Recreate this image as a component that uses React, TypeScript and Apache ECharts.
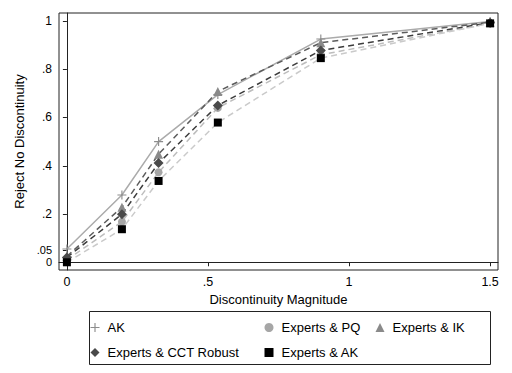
import React, { useEffect, useRef } from "react";
import * as echarts from "echarts";

const magnitudes = [0, 0.195, 0.325, 0.535, 0.9, 1.5];
const akValues = [0.055, 0.279, 0.5, 0.695, 0.925, 0.998];
const pqValues = [0.01, 0.168, 0.373, 0.64, 0.86, 0.99];
const ikValues = [0.025, 0.228, 0.448, 0.708, 0.91, 0.995];
const cctValues = [0.02, 0.199, 0.411, 0.65, 0.878, 0.993];
const expAkValues = [0.0, 0.137, 0.337, 0.579, 0.846, 0.99];

const yTicks = [0, 0.05, 0.2, 0.4, 0.6, 0.8, 1];
const xTicks = [0, 0.5, 1, 1.5];

const FONT = '"Liberation Sans", Arial, sans-serif';
const PLUS = "path://M3.5,0h1v3.5h3.5v1h-3.5v3.5h-1v-3.5h-3.5v-1h3.5z";

function fmt(v: number): string {
  if (v === 0) return "0";
  if (v === 1) return "1";
  const s = String(Math.round(v * 1000) / 1000);
  return s.replace(/^0\./, ".");
}

function pairs(vals: number[]) {
  return magnitudes.map((x, i) => [x, vals[i]]);
}

export default function App() {
  const ref = useRef<HTMLDivElement>(null);
  useEffect(() => {
    if (!ref.current) return;
    const chart = echarts.init(ref.current, undefined, { renderer: "svg" });
    const dash = [6, 4];
    const legendBase = {
      orient: "vertical" as const,
      itemWidth: 9,
      itemHeight: 9,
      itemGap: 12,
      padding: 0,
      selectedMode: false,
      textStyle: { fontSize: 13, color: "#000", fontFamily: FONT, padding: [0, 0, 0, 3] },
    };
    chart.setOption({
      animation: false,
      backgroundColor: "#fff",
      textStyle: { fontFamily: FONT },
      grid: {
        left: 59,
        right: 14,
        top: 13,
        bottom: 103,
        show: true,
        borderColor: "#222",
        borderWidth: 1,
      },
      xAxis: {
        type: "value",
        min: -0.028,
        max: 1.528,
        name: "Discontinuity Magnitude",
        nameLocation: "middle",
        nameGap: 20,
        nameTextStyle: { fontSize: 13, color: "#000", fontFamily: FONT },
        axisLine: { show: true, lineStyle: { color: "#222", width: 1 } },
        axisTick: { show: true, length: 4, customValues: xTicks, lineStyle: { color: "#222" } },
        axisLabel: {
          customValues: xTicks,
          formatter: (v: number) => fmt(v),
          fontSize: 12.5,
          color: "#000",
          margin: 5,
          fontFamily: FONT,
        },
        splitLine: { show: false },
      },
      yAxis: {
        type: "value",
        min: -0.032,
        max: 1.033,
        name: "Reject No Discontinuity",
        nameLocation: "middle",
        nameGap: 29,
        nameTextStyle: { fontSize: 13, color: "#000", fontFamily: FONT },
        axisLine: { show: true, lineStyle: { color: "#222", width: 1 } },
        axisTick: { show: true, length: 4, customValues: yTicks, lineStyle: { color: "#222" } },
        axisLabel: {
          customValues: yTicks,
          formatter: (v: number) => (v < 0.1 ? "{s|" + fmt(v) + "}" : fmt(v)),
          fontSize: 12,
          color: "#000",
          margin: 7,
          fontFamily: FONT,
          rich: {
            s: { fontSize: 11, lineHeight: 10, color: "#000", fontFamily: FONT },
          },
        },
        splitLine: { show: false },
      },
      legend: [
        {
          ...legendBase,
          left: 90.5,
          top: 321,
          data: [
            { name: "AK", icon: PLUS },
            { name: "Experts & CCT Robust", icon: "diamond" },
          ],
        },
        {
          ...legendBase,
          left: 264.5,
          top: 321,
          data: [
            { name: "Experts & PQ", icon: "circle" },
            { name: "Experts & AK", icon: "rect" },
          ],
        },
        {
          ...legendBase,
          left: 375.5,
          top: 321,
          data: [{ name: "Experts & IK", icon: "triangle" }],
        },
      ],
      graphic: [
        {
          type: "rect",
          shape: { x: 89.5, y: 311.5, width: 401, height: 53 },
          style: { fill: "none", stroke: "#222", lineWidth: 1 },
          silent: true,
        },
      ],
      series: [
        {
          name: "AK",
          type: "line",
          data: pairs(akValues),
          symbol: PLUS,
          symbolSize: 9,
          itemStyle: { color: "#8c8c8c" },
          lineStyle: { color: "#ababab", width: 1.5, type: "solid" },
        },
        {
          name: "Experts & PQ",
          type: "line",
          data: pairs(pqValues),
          symbol: "circle",
          symbolSize: 8,
          itemStyle: { color: "#a6a6a6" },
          lineStyle: { color: "#bdbdbd", width: 1.5, type: dash },
        },
        {
          name: "Experts & IK",
          type: "line",
          data: pairs(ikValues),
          symbol: "triangle",
          symbolSize: 9,
          itemStyle: { color: "#8a8a8a" },
          lineStyle: { color: "#5c5c5c", width: 1.5, type: dash },
        },
        {
          name: "Experts & CCT Robust",
          type: "line",
          data: pairs(cctValues),
          symbol: "diamond",
          symbolSize: 10,
          itemStyle: { color: "#4a4a4a" },
          lineStyle: { color: "#3c3c3c", width: 1.5, type: dash },
        },
        {
          name: "Experts & AK",
          type: "line",
          data: pairs(expAkValues),
          symbol: "rect",
          symbolSize: 8,
          itemStyle: { color: "#000" },
          lineStyle: { color: "#cacaca", width: 1.5, type: dash },
        },
      ],
    });
    return () => chart.dispose();
  }, []);
  return (
    <div
      ref={ref}
      style={{ position: "absolute", left: 0, top: 0, width: 512, height: 373, background: "#fff" }}
    />
  );
}
